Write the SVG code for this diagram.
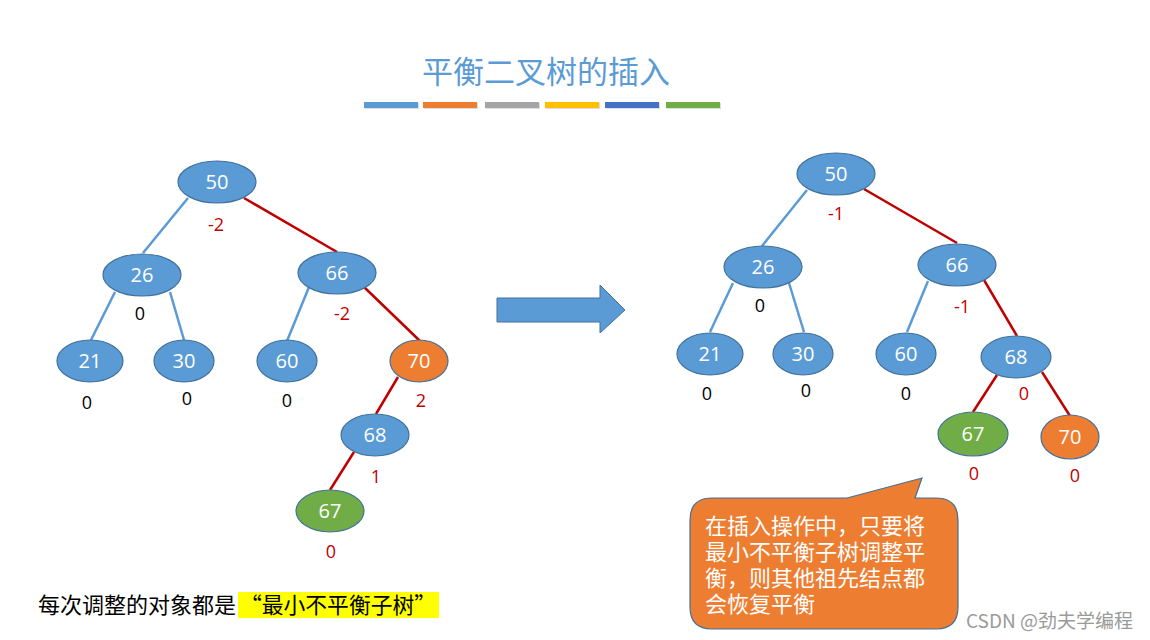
<svg xmlns="http://www.w3.org/2000/svg" width="1150" height="640" viewBox="0 0 1150 640">
<style>
.n{stroke:#41719C;stroke-width:1.2}
.b{fill:#5B9BD5}.o{fill:#ED7D31}.g{fill:#70AD47}
.t{font-family:"Open Sans","Liberation Sans",sans-serif;font-size:20px;fill:#fff;text-anchor:middle}
.l{font-family:"Open Sans","Liberation Sans",sans-serif;font-size:18px;text-anchor:middle}
.r{fill:#C00000}.k{fill:#000}
.eb{stroke:#5B9BD5;stroke-width:2.5;fill:none}
.er{stroke:#C00000;stroke-width:2.5;fill:none}
.cjk{font-family:"Noto Sans CJK SC",sans-serif}
</style>
<rect width="1150" height="640" fill="#fff"/>
<text x="546" y="83" class="cjk" font-size="31" fill="#5B9BD5" text-anchor="middle">平衡二叉树的插入</text>
<g id="bars">
<rect x="365" y="103" width="54" height="6" fill="#bbb" opacity="0.5"/>
<rect x="364" y="102" width="54" height="6" fill="#5B9BD5"/>
<rect x="424" y="103" width="54" height="6" fill="#bbb" opacity="0.5"/>
<rect x="423" y="102" width="54" height="6" fill="#ED7D31"/>
<rect x="486" y="103" width="54" height="6" fill="#bbb" opacity="0.5"/>
<rect x="485" y="102" width="54" height="6" fill="#A5A5A5"/>
<rect x="546" y="103" width="54" height="6" fill="#bbb" opacity="0.5"/>
<rect x="545" y="102" width="54" height="6" fill="#FFC000"/>
<rect x="606" y="103" width="54" height="6" fill="#bbb" opacity="0.5"/>
<rect x="605" y="102" width="54" height="6" fill="#4472C4"/>
<rect x="667" y="103" width="54" height="6" fill="#bbb" opacity="0.5"/>
<rect x="666" y="102" width="54" height="6" fill="#70AD47"/>
</g>
<g id="connectors">
<line class="eb" x1="188" y1="198" x2="143" y2="253"/>
<line class="er" x1="244" y1="198" x2="337" y2="252"/>
<line class="eb" x1="115" y1="292" x2="91" y2="340"/>
<line class="eb" x1="170" y1="292" x2="184" y2="340"/>
<line class="eb" x1="309" y1="287" x2="287" y2="341"/>
<line class="er" x1="364" y1="287" x2="420" y2="341"/>
<line class="er" x1="398" y1="377" x2="376" y2="414"/>
<line class="er" x1="354" y1="452" x2="330" y2="490"/>
<line class="eb" x1="807" y1="190" x2="762" y2="246"/>
<line class="er" x1="864" y1="189" x2="957" y2="243"/>
<line class="eb" x1="733" y1="283" x2="710" y2="332"/>
<line class="eb" x1="789" y1="283" x2="804" y2="332"/>
<line class="eb" x1="928" y1="281" x2="907" y2="332"/>
<line class="er" x1="984" y1="280" x2="1017" y2="336"/>
<line class="er" x1="997" y1="375" x2="973" y2="412"/>
<line class="er" x1="1042" y1="372" x2="1070" y2="416"/>
</g>
<g id="L50"><ellipse class="n b" cx="217" cy="182" rx="39" ry="21"/><text class="t" x="217" y="189">50</text></g>
<g id="L26"><ellipse class="n b" cx="142" cy="275" rx="39" ry="21"/><text class="t" x="142" y="282">26</text></g>
<g id="L66"><ellipse class="n b" cx="337" cy="273" rx="39" ry="21"/><text class="t" x="337" y="280">66</text></g>
<g id="L21"><ellipse class="n b" cx="90" cy="361" rx="33" ry="21"/><text class="t" x="90" y="368">21</text></g>
<g id="L30"><ellipse class="n b" cx="184" cy="361" rx="30" ry="21"/><text class="t" x="184" y="368">30</text></g>
<g id="L60"><ellipse class="n b" cx="287" cy="361" rx="30" ry="21"/><text class="t" x="287" y="368">60</text></g>
<g id="L70"><ellipse class="n o" cx="419" cy="361" rx="29" ry="21"/><text class="t" x="419" y="368">70</text></g>
<g id="L68"><ellipse class="n b" cx="375" cy="435" rx="34" ry="21"/><text class="t" x="375" y="442">68</text></g>
<g id="L67"><ellipse class="n g" cx="330" cy="511" rx="34" ry="21"/><text class="t" x="330" y="518">67</text></g>
<g id="Lbal">
<text class="l r" x="216" y="231">-2</text>
<text class="l k" x="140" y="320">0</text>
<text class="l r" x="342" y="320">-2</text>
<text class="l k" x="87" y="409">0</text>
<text class="l k" x="187" y="405">0</text>
<text class="l k" x="287" y="407">0</text>
<text class="l r" x="421" y="407">2</text>
<text class="l r" x="376" y="483">1</text>
<text class="l r" x="331" y="558">0</text>
</g>
<g id="R50"><ellipse class="n b" cx="836" cy="174" rx="39" ry="21"/><text class="t" x="836" y="181">50</text></g>
<g id="R26"><ellipse class="n b" cx="763" cy="267" rx="39" ry="21"/><text class="t" x="763" y="274">26</text></g>
<g id="R66"><ellipse class="n b" cx="957" cy="265" rx="39" ry="21"/><text class="t" x="957" y="272">66</text></g>
<g id="R21"><ellipse class="n b" cx="710" cy="354" rx="33" ry="21"/><text class="t" x="710" y="361">21</text></g>
<g id="R30"><ellipse class="n b" cx="803" cy="354" rx="30" ry="21"/><text class="t" x="803" y="361">30</text></g>
<g id="R60"><ellipse class="n b" cx="906" cy="354" rx="30" ry="21"/><text class="t" x="906" y="361">60</text></g>
<g id="R68"><ellipse class="n b" cx="1016" cy="357" rx="35" ry="21"/><text class="t" x="1016" y="364">68</text></g>
<g id="R67"><ellipse class="n g" cx="973" cy="434" rx="35" ry="22"/><text class="t" x="973" y="441">67</text></g>
<g id="R70"><ellipse class="n o" cx="1070" cy="437" rx="29" ry="22"/><text class="t" x="1070" y="444">70</text></g>
<g id="Rbal">
<text class="l r" x="836" y="220">-1</text>
<text class="l k" x="760" y="312">0</text>
<text class="l r" x="962" y="313">-1</text>
<text class="l k" x="707" y="400">0</text>
<text class="l k" x="806" y="397">0</text>
<text class="l k" x="906" y="400">0</text>
<text class="l r" x="1024" y="400">0</text>
<text class="l r" x="974" y="480">0</text>
<text class="l r" x="1075" y="482">0</text>
</g>
<g id="arrow">
<path d="M497,298 H600 V285 L625,310 L600,333 V322 H497 Z" fill="#5B9BD5" stroke="#41719C" stroke-width="1"/>
</g>
<g id="callout">
<path d="M712,498 H847 L922,478 L915,498 H936 Q958,498 958,520 V607 Q958,629 936,629 H712 Q690,629 690,607 V520 Q690,498 712,498 Z" fill="#ED7D31" stroke="#41719C" stroke-width="1.2"/>
<text class="cjk" font-size="22" fill="#fff">
<tspan x="705" y="534">在插入操作中，只要将</tspan>
<tspan x="705" y="560">最小不平衡子树调整平</tspan>
<tspan x="705" y="586">衡，则其他祖先结点都</tspan>
<tspan x="705" y="612">会恢复平衡</tspan>
</text>
</g>
<g id="note">
<rect x="238" y="592" width="201" height="26" fill="#FFFF00"/>
<text class="cjk" x="38" y="613" font-size="22" fill="#000" textLength="198">每次调整的对象都是</text>
<text class="cjk" x="240" y="613" font-size="22" fill="#000" textLength="196" lengthAdjust="spacingAndGlyphs">“最小不平衡子树”</text>
</g>
<text class="cjk" x="966" y="628" font-size="19" fill="#9a9a9a">CSDN @劲夫学编程</text>
</svg>
